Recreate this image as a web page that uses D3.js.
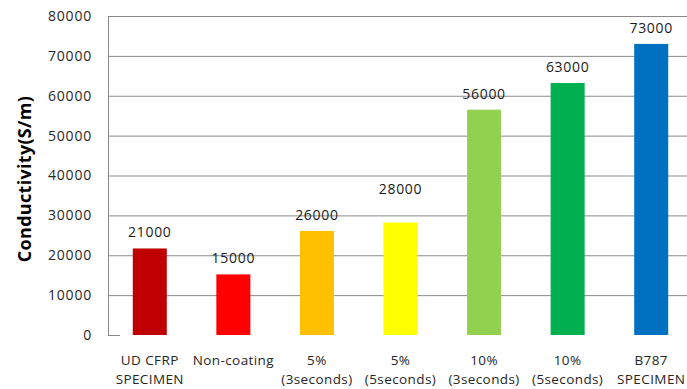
<!DOCTYPE html>
<html>
<head>
<meta charset="utf-8">
<script src="https://cdn.jsdelivr.net/npm/d3@7"></script>
<style>
  body { margin: 0; background: #fff; }
  svg text { font-family: "Open Sans", sans-serif; }
</style>
</head>
<body>
<svg id="chart" width="687" height="389"></svg>
<script>
// categories (two lines each) and values
var catLine1 = ["UD CFRP", "Non-coating", "5%", "5%", "10%", "10%", "B787"]
var catLine2 = ["SPECIMEN", "", "(3seconds)", "(5seconds)", "(3seconds)", "(5seconds)", "SPECIMEN"]
var barValues = [21700, 15200, 26100, 28200, 56500, 63200, 73000]
var barLabels = ["21000", "15000", "26000", "28000", "56000", "63000", "73000"]
var barColors = ["#C00000", "#FF0000", "#FFC000", "#FFFF00", "#92D050", "#00B050", "#0070C0"]
var yTicks = [0, 10000, 20000, 30000, 40000, 50000, 60000, 70000, 80000]

var svg = d3.select("#chart")
var plotLeft = 108, plotTop = 16, plotBottom = 335

var x = d3.scaleBand().domain(d3.range(catLine1.length)).range([plotLeft, 693]).paddingInner(0.593).paddingOuter(0.2965)
var y = d3.scaleLinear().domain([0, 80000]).range([plotBottom, plotTop])

//* grid lines (no line at 0, just a little stub)
svg.append("g").selectAll("line").data(yTicks.filter(d => d > 0)).join("line")
    .attr("x1", plotLeft).attr("x2", 687)
    .attr("y1", d => y(d) + 0.5).attr("y2", d => y(d) + 0.5)
    .attr("stroke", "#8a8a8a").attr("stroke-width", 1)
svg.append("line").attr("x1", plotLeft).attr("x2", plotLeft + 12).attr("y1", y(0) + 0.5).attr("y2", y(0) + 0.5)
    .attr("stroke", "#8a8a8a")

// y axis
var yAxis = svg.append("g").attr("transform", "translate(" + plotLeft + ",0)")
    .call(d3.axisLeft(y).tickValues(yTicks).tickSize(0).tickPadding(16).tickFormat(d3.format("d")))
yAxis.select(".domain").attr("stroke", "#8a8a8a").attr("d", "M0.5," + plotTop + "V" + plotBottom)
yAxis.selectAll("text").style("font-size", "14px").attr("fill", "#262626").attr("letter-spacing", "0.8")

svg.append("text").attr("transform", "translate(31,179) rotate(-90)")
    .attr("text-anchor", "middle").style("font-size", "18px").style("font-weight", "bold")
    .attr("letter-spacing", "0.3").attr("fill", "#000").text("Conductivity(S/m)")

// bars
svg.append("g").selectAll("rect").data(barValues).join("rect")
    .attr("x", (d, i) => x(i)).attr("width", x.bandwidth())
    .attr("y", d => y(d)).attr("height", d => y(0) - y(d))
    .attr("fill", (d, i) => barColors[i])

// value labels (28000 sits higher in the original)
var lift = i => i == 3 ? 18 : 0
svg.append("g").selectAll("text").data(barValues).join("text")
    .attr("x", (d, i) => x(i) + x.bandwidth() / 2)
    .attr("y", (d, i) => y(d) - 11 - lift(i))
    .attr("text-anchor", "middle").style("font-size", "14px").attr("letter-spacing", "0.7")
    .attr("fill", "#1a1a1a").text((d, i) => barLabels[i])

// category labels
var cats = svg.append("g").selectAll("text").data(catLine1).join("text")
    .attr("x", (d, i) => x(i) + x.bandwidth() / 2)
    .attr("text-anchor", "middle").style("font-size", "13.5px").attr("letter-spacing", "0.4")
    .attr("fill", "#262626")
cats.append("tspan").attr("x", (d, i) => x(i) + x.bandwidth() / 2).attr("y", 365).text(d => d)
cats.append("tspan").attr("x", (d, i) => x(i) + x.bandwidth() / 2).attr("y", 384).text((d, i) => catLine2[i])
</script>
</body>
</html>
